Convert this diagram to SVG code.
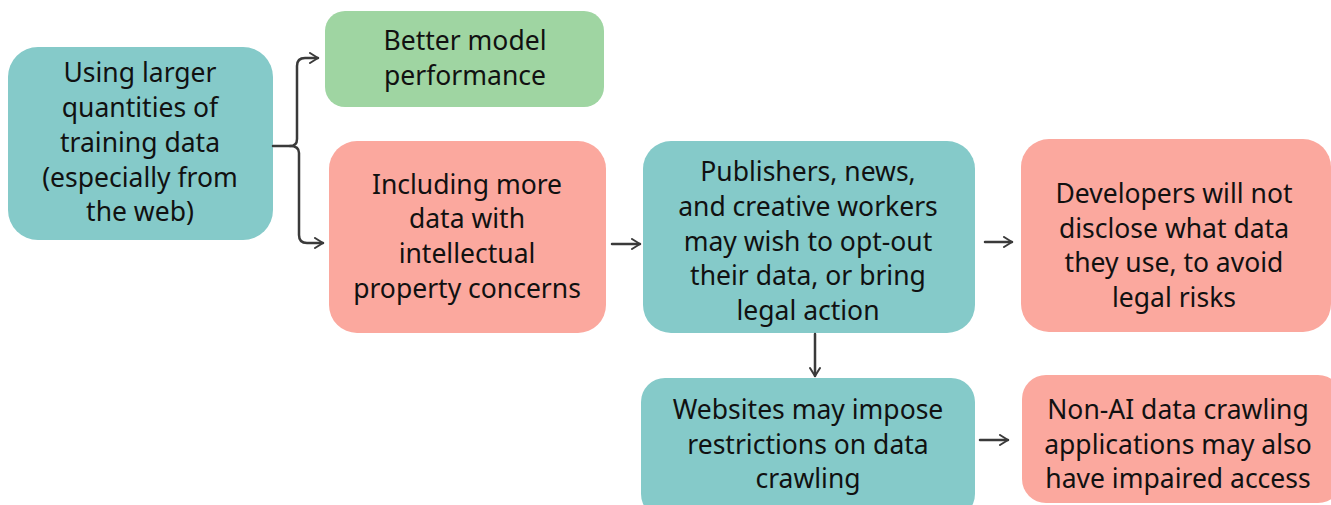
<svg xmlns="http://www.w3.org/2000/svg" width="1331" height="505" viewBox="0 0 1331 505">
<defs>
<marker id="arr" viewBox="0 0 12 12" refX="10" refY="6" markerWidth="12" markerHeight="12" markerUnits="userSpaceOnUse" orient="auto">
<path d="M2,1 L10,6 L2,11" fill="none" stroke="#3a3a3a" stroke-width="2" stroke-linecap="round" stroke-linejoin="round"/>
</marker>
<style>
.teal{fill:#85cac9}
.pink{fill:#fba89e}
.green{fill:#9fd5a2}
text{font-family:"Noto Sans","Liberation Sans",sans-serif;font-size:26.5px;fill:#111;text-anchor:middle;font-variant-ligatures:none}
.c{fill:none;stroke:#3a3a3a;stroke-width:2.5;stroke-linecap:round;stroke-linejoin:round}
</style>
</defs>
<rect width="1331" height="505" fill="#ffffff"/>
<g id="n1"><rect class="teal" x="8" y="47" width="265" height="193" rx="30"/>
<text x="140" y="82">Using larger</text><text x="140" y="117">quantities of</text><text x="140" y="152">training data</text><text x="140" y="187">(especially from</text><text x="140" y="221">the web)</text></g>
<g id="n2"><rect class="green" x="325" y="11" width="279" height="96" rx="20"/>
<text x="465" y="50">Better model</text><text x="465" y="85">performance</text></g>
<g id="n3"><rect class="pink" x="329" y="141" width="277" height="192" rx="28"/>
<text x="467" y="194">Including more</text><text x="467" y="228">data with</text><text x="467" y="263">intellectual</text><text x="467" y="298">property concerns</text></g>
<g id="n4"><rect class="teal" x="643" y="141" width="332" height="192" rx="28"/>
<text x="808" y="181">Publishers, news,</text><text x="808" y="216">and creative workers</text><text x="808" y="251">may wish to opt-out</text><text x="808" y="285">their data, or bring</text><text x="808" y="320">legal action</text></g>
<g id="n5"><rect class="pink" x="1021" y="139" width="310" height="193" rx="28"/>
<text x="1174" y="203">Developers will not</text><text x="1174" y="238">disclose what data</text><text x="1174" y="272">they use, to avoid</text><text x="1174" y="307">legal risks</text></g>
<g id="n6"><rect class="teal" x="641" y="378" width="334" height="140" rx="24"/>
<text x="808" y="419">Websites may impose</text><text x="808" y="454">restrictions on data</text><text x="808" y="488">crawling</text></g>
<g id="n7"><rect class="pink" x="1022" y="375" width="320" height="128" rx="24"/>
<text x="1178" y="419">Non-AI data crawling</text><text x="1178" y="454">applications may also</text><text x="1178" y="488">have impaired access</text></g>
<g id="connectors">
<path class="c" d="M273,146 L290,146 Q297,146 297,139 L297,66 Q297,58 305,58 L318,58" marker-end="url(#arr)"/>
<path class="c" d="M290,146 Q299,146 299,153 L299,235 Q299,243 307,243 L323,243" marker-end="url(#arr)"/>
<path class="c" d="M612,244 L640,244" marker-end="url(#arr)"/>
<path class="c" d="M815,334 L815,376" marker-end="url(#arr)"/>
<path class="c" d="M985,242 L1012,242" marker-end="url(#arr)"/>
<path class="c" d="M980,440 L1008,440" marker-end="url(#arr)"/>
</g>
</svg>
